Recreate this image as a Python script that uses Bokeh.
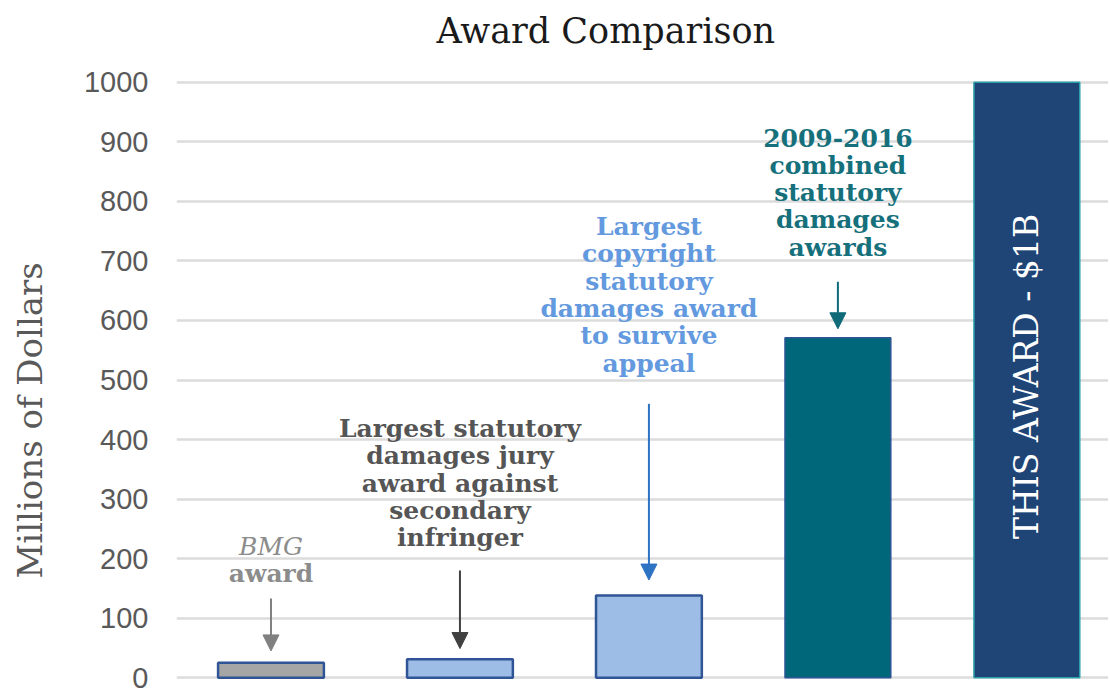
import math
from bokeh.plotting import figure
from bokeh.models import Range1d, FixedTicker, Arrow, NormalHead, ColumnDataSource, Title
from bokeh.core.properties import value
from bokeh.embed import file_html
from bokeh.resources import INLINE

# ---- data ----
categories = ["BMG award",
              "Largest statutory damages jury award against secondary infringer",
              "Largest copyright statutory damages award to survive appeal",
              "2009-2016 combined statutory damages awards",
              "THIS AWARD - $1B"]
award_values = [25, 31, 138, 571, 1000]
y_ticks = [0, 100, 200, 300, 400, 500, 600, 700, 800, 900, 1000]

# ---- styles ----
fills = ["#a6a6a6", "#9dbde6", "#9dbde6", "#00667a", "#1f4577"]
lines = ["#2f5597", "#2f5597", "#2f5597", "#2f5597", "#2aa0ad"]
lws = [2.5, 2.5, 2.5, 1.5, 1.5]

pos = list(range(len(categories)))
src = ColumnDataSource(dict(x=pos, top=award_values, fill=fills, line=lines, lw=lws, cat=categories))

p = figure(width=1108, height=688, x_range=Range1d(-0.5, 4.432), y_range=Range1d(-3, 1003),
           output_backend="svg", toolbar_location=None,
           min_border_left=176, min_border_right=0, min_border_bottom=9, min_border_top=80)
p.outline_line_color = None
p.background_fill_color = "white"

# trailing empty line in the title keeps a gap between the title and the frame
p.title.text = "Award Comparison\n "
p.title.text_font = "DejaVu Serif"
p.title.text_font_style = "normal"
p.title.text_font_size = "35px"
p.title.text_line_height = 0.73
p.title.text_color = "#1a1a1a"
p.title.align = "left"
p.title.offset = 260
p.title.standoff = 0

# vertical axis title as a left-side title so it can be offset along the axis
p.add_layout(Title(text="Millions of Dollars\n ", align="left", offset=101,
                   text_font="DejaVu Serif", text_font_style="normal", text_font_size="34px",
                   text_line_height=0.77, text_color="#595959", standoff=0), "left")

p.xaxis.visible = False
p.xgrid.grid_line_color = None
p.ygrid.grid_line_color = "#dcdcdc"
p.ygrid.grid_line_width = 2.5

ya = p.yaxis[0]
ya.ticker = FixedTicker(ticks=y_ticks)
ya.axis_line_color = None
ya.major_tick_line_color = None
ya.minor_tick_line_color = None
ya.major_label_text_font = "Liberation Sans"
ya.major_label_text_font_size = "29px"
ya.major_label_text_color = "#595959"
ya.major_label_standoff = 22

p.vbar(x="x", top="top", bottom=0, width=0.56, source=src,
       fill_color="fill", line_color="line", line_width="lw")

# annotations: each line drawn separately with a fixed line step
ann_font = value("DejaVu Serif")
px_per_unit = 0.5954
step = 27.3 / px_per_unit


def block(x, y_center, text_lines, color, style="bold", size="25px"):
    n = len(text_lines)
    ys = [y_center + (n - 1) / 2 * step - i * step for i in range(n)]
    p.text(x=[x] * n, y=ys, text=text_lines, text_font=ann_font, text_font_style=style,
           text_font_size=size, text_color=color, text_align="center", text_baseline="middle")


block(0, 220, ["BMG"], "#8c8c8c", style="italic")
block(0, 175, ["award"], "#8c8c8c")
block(1, 327, ["Largest statutory", "damages jury", "award against", "secondary", "infringer"], "#555555")
block(2, 643, ["Largest", "copyright", "statutory", "damages award", "to survive", "appeal"], "#6399de")
block(3, 815, ["2009-2016", "combined", "statutory", "damages", "awards"], "#16707c")

p.text(x=[4], y=[506], text=[categories[4]], angle=math.pi / 2,
       text_font=ann_font, text_font_size="33px", text_color="white",
       text_align="center", text_baseline="middle")

arrows = [(0, 133, 45, "#808080"), (1, 180, 49, "#404040"),
          (2, 460, 164, "#2e72c4"), (3, 665, 586, "#0f6b78")]
for ax, ys, ye, c in arrows:
    p.add_layout(Arrow(x_start=ax, y_start=ys, x_end=ax, y_end=ye, line_color=c, line_width=2,
                       end=NormalHead(size=16, fill_color=c, line_color=c)))

open("out.html", "w").write(file_html(p, INLINE))
